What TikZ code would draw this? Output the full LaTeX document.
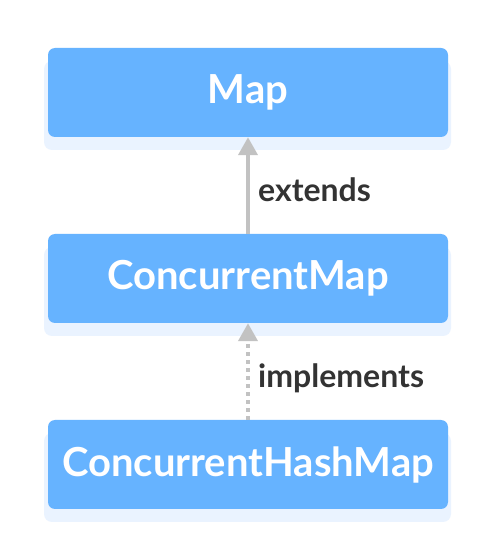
\documentclass[tikz,border=0pt]{standalone}
\usepackage{fontspec}
\setmainfont{Lato}
\usetikzlibrary{arrows.meta}
\definecolor{boxblue}{HTML}{66B3FF}
\definecolor{shadowblue}{HTML}{EAF3FF}
\definecolor{arrowgray}{HTML}{C2C2C2}
\definecolor{labeltext}{HTML}{333333}
\begin{document}
\begin{tikzpicture}[x=1pt,y=1pt,
  classbox/.style={draw=none, fill=boxblue, rounded corners=7pt, minimum width=400pt, minimum height=89pt, inner sep=0pt, text=white, font=\bfseries\fontsize{40}{46}\selectfont},
  shadowbox/.style={fill=shadowblue, rounded corners=8pt, draw=none},
  conn/.style={draw=arrowgray, line width=4pt, -{Triangle[length=18pt,width=19pt]}},
  lbl/.style={text=labeltext, font=\bfseries\fontsize{32}{36}\selectfont, inner sep=0pt, anchor=base west}]
\useasboundingbox (0,0) rectangle (496,558);
\fill[white] (0,0) rectangle (496,558);
% shadows
\fill[shadowbox] (44,408) rectangle (451,497);
\fill[shadowbox] (44,222) rectangle (451,311);
\fill[shadowbox] (44,36) rectangle (451,125);
% boxes
\node[classbox] (map) at (248,465.5) {Map};
\node[classbox] (cmap) at (248,279.5) {ConcurrentMap};
\node[classbox] (chm) at (248,93.5) {ConcurrentHashMap};
% connectors
\draw[conn] (cmap.north) -- (map.south);
\draw[conn, dash pattern=on 4pt off 4pt] (chm.north) -- (cmap.south);
% labels
\node[lbl] (ext) at (258,356) {extends};
\node[lbl] (impl) at (258,170) {implements};
\end{tikzpicture}
\end{document}
